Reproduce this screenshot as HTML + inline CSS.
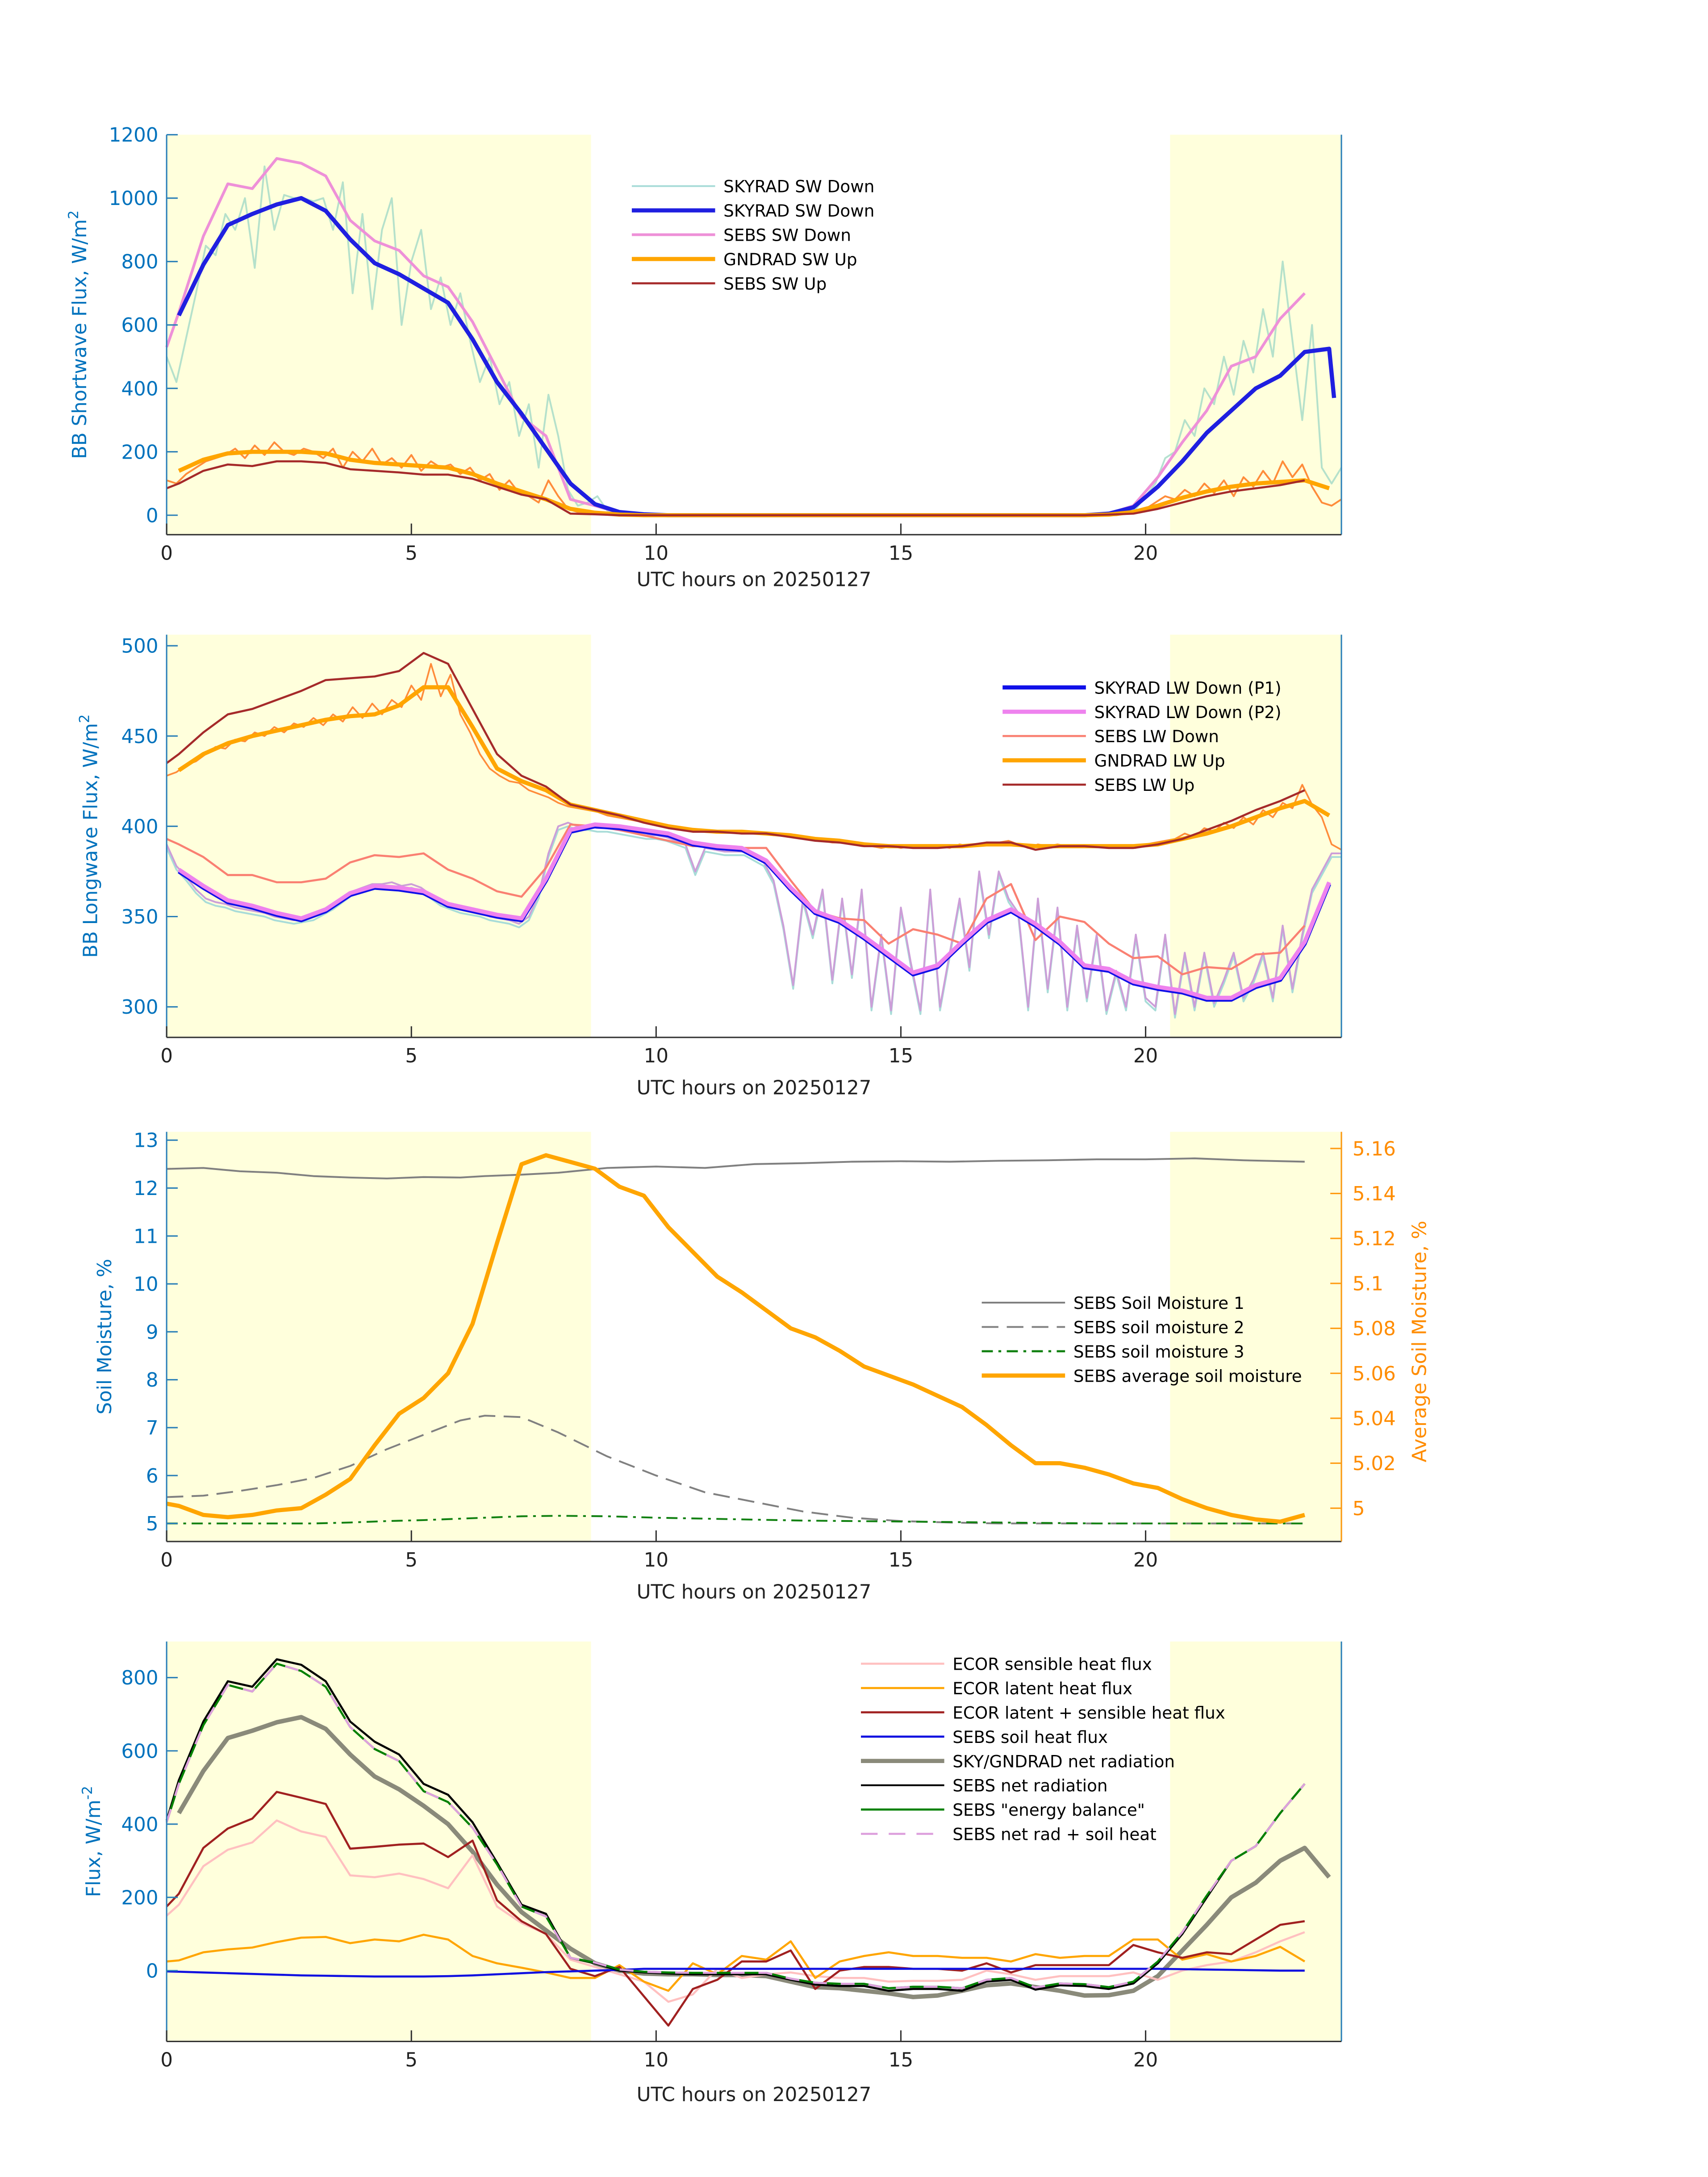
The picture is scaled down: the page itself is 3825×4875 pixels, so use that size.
<!DOCTYPE html>
<html><head><meta charset="utf-8"><style>
html,body{margin:0;padding:0;background:#fff;}
svg{display:block;font-family:"DejaVu Sans","Liberation Sans",sans-serif;}
</style></head><body>
<svg id="fig" xmlns="http://www.w3.org/2000/svg" width="3825" height="4875" viewBox="0 0 1230 1567.6" preserveAspectRatio="none"></svg>
<script>
// ---------------- DATA ----------------
const TH = []; for (let k = 0; k < 48; k++) TH.push(0.25 + 0.5 * k); // 0.25..23.75
const TH0 = [0].concat(TH); // 0,0.25..23.75
const N = null;
// Panel 1 (shortwave)
const swRaw = [500,420,560,700,850,820,950,900,1000,780,1100,900,1010,1000,1000,990,1000,900,1050,700,950,650,900,1000,600,800,900,650,750,600,700,550,420,500,350,420,250,350,150,380,250,80,30,40,60,15,
5,3,2,1,0,0,0,0,0,0,0,0,0,0,0,0,0,0,0,0,0,0,0,0,0,0,0,0,0,0,0,0,0,0,0,0,0,0,0,0,0,0,0,0,0,0,0,0,0,0,2,4,
10,20,60,100,180,200,300,250,400,350,500,380,550,450,650,500,800,550,300,600,150,100,150];
const swSkyDown = [630,790,915,950,980,1000,960,870,795,760,715,670,555,420,320,210,100,35,10,3,0,0,0,0,0,0,0,0,0,0,0,0,0,0,0,0,0,0,5,25,90,170,260,330,400,440,515,525];
const swSkyDownEnd = 370;
const swSebsDown = [530,640,880,1045,1030,1125,1110,1070,930,865,835,755,720,610,460,310,250,50,30,8,2,0,0,0,0,0,0,0,0,0,0,0,0,0,0,0,0,0,0,5,30,120,230,330,470,500,620,700,N];
const swGndRaw = [110,100,130,150,170,180,190,210,180,220,190,230,200,190,210,200,180,210,150,200,170,210,160,180,150,190,140,170,150,160,130,150,110,130,80,110,70,60,40,110,60,20,10,8,5,3,
0,0,0,0,0,0,0,0,0,0,0,0,0,0,0,0,0,0,0,0,0,0,0,0,0,0,0,0,0,0,0,0,0,0,0,0,0,0,0,0,0,0,0,0,0,0,0,0,0,0,0,0,
5,10,20,40,60,50,80,60,100,70,110,60,120,90,140,100,170,120,160,90,40,30,50];
const swGndUp = [140,175,195,200,200,200,195,175,165,160,155,150,130,100,75,50,20,8,2,0,0,0,0,0,0,0,0,0,0,0,0,0,0,0,0,0,0,0,2,10,30,55,75,90,100,105,110,85];
const swSebsUp = [85,100,140,160,155,170,170,165,145,140,135,128,128,115,90,65,50,5,3,0,0,0,0,0,0,0,0,0,0,0,0,0,0,0,0,0,0,0,0,2,5,20,40,60,75,85,95,110,N];
// Panel 2 (longwave)
const lwRaw = [390,378,372,365,360,358,357,355,354,353,352,350,349,348,349,350,353,356,360,364,366,368,368,369,367,368,366,362,358,356,354,353,352,350,349,348,346,350,362,385,400,402,400,400,399,399,398,397,396,395,395,394,392,390,375,388,387,386,386,386,383,380,370,345,312,360,340,365,315,360,318,365,300,340,298,355,325,298,365,300,330,360,322,375,340,375,360,352,300,360,310,355,300,345,305,340,298,320,300,340,305,300,340,296,330,300,330,302,315,330,305,315,330,305,345,310,340,365,375,385,385];
const lwP1 = [375,366,358,355,351,348,353,362,366,365,363,356,353,350,348,370,397,400,399,397,395,390,388,387,380,365,352,347,338,328,318,322,335,347,353,345,335,322,320,313,310,308,304,304,311,315,335,368];
const lwP2 = [376,367,359,356,352,349,354,363,367,366,364,357,354,351,349,371,398,401,400,398,396,391,389,388,381,366,353,348,339,329,319,323,336,348,354,346,336,323,321,314,311,309,305,305,312,316,336,369];
const lwSebsDown = [393,390,383,373,373,369,369,371,380,384,383,385,376,371,364,361,377,401,400,398,395,392,389,389,388,388,370,353,349,348,335,343,340,335,360,368,337,350,347,335,327,328,318,322,321,329,330,345,N];
const lwGndRaw = [428,430,434,436,440,444,443,448,447,452,450,455,452,457,455,460,456,462,458,466,460,468,462,470,466,478,470,490,472,484,462,452,440,432,428,425,424,420,418,416,413,411,410,409,408,406,405,404,403,402,401,400,399,398,398,397,397,397,397,396,396,396,395,395,394,393,393,392,391,391,390,389,389,388,389,388,389,388,389,389,388,390,389,390,391,391,392,390,388,390,389,390,389,389,389,389,388,389,388,388,390,391,392,393,396,394,399,397,402,399,405,401,409,405,413,410,423,412,405,390,387];
const lwGndUp = [431,440,446,450,453,456,459,461,462,467,477,477,455,432,425,420,412,409,406,403,400,398,397,397,396,395,393,392,390,389,389,389,389,390,390,389,389,389,389,389,390,393,396,400,405,410,414,406];
const lwSebsUp = [435,440,452,462,465,470,475,481,482,483,486,496,490,465,440,428,422,412,409,406,402,399,397,397,396,396,394,392,391,389,389,388,388,389,391,391,387,389,389,388,388,390,393,398,403,409,414,420,N];
// Panel 3 (soil moisture)
const smT = [0,0.75,1.5,2.25,3,3.75,4.5,5.25,6,6.5,7.25,8,9,10,11,12,13,14,15,16,17,18,19,20,21,22,23.25];
const sm1 = [12.4,12.42,12.35,12.32,12.25,12.22,12.2,12.23,12.22,12.25,12.28,12.32,12.42,12.45,12.42,12.5,12.52,12.55,12.56,12.55,12.57,12.58,12.6,12.6,12.62,12.58,12.55];
const sm2 = [5.55,5.58,5.68,5.8,5.95,6.2,6.55,6.85,7.15,7.25,7.22,6.9,6.4,6.0,5.65,5.45,5.25,5.12,5.05,5.02,5.0,5.0,5.0,5.0,5.0,5.0,5.0];
const sm3 = [5.0,5.0,5.0,5.0,5.0,5.02,5.05,5.07,5.1,5.12,5.15,5.16,5.15,5.12,5.1,5.08,5.06,5.05,5.04,5.03,5.02,5.01,5.0,5.0,5.0,5.0,5.0];
const smAvg = [5.002,5.001,4.997,4.996,4.997,4.999,5.0,5.006,5.013,5.028,5.042,5.049,5.06,5.082,5.118,5.153,5.157,5.154,5.151,5.143,5.139,5.125,5.114,5.103,5.096,5.088,5.080,5.076,5.070,5.063,5.059,5.055,5.050,5.045,5.037,5.028,5.020,5.020,5.018,5.015,5.011,5.009,5.004,5.000,4.997,4.995,4.994,4.997,N];
// Panel 4 (fluxes) on TH0 grid
const fxNet = [410,520,680,790,775,850,835,790,680,625,590,510,480,405,295,180,155,35,20,0,-5,-8,-10,-10,-10,-10,-25,-38,-42,-42,-55,-50,-50,-55,-30,-25,-52,-40,-42,-50,-35,20,100,200,300,340,430,510,N];
const fxBal = [405,510,670,780,762,838,818,775,665,605,572,490,460,390,290,175,148,35,22,3,-3,-5,-6,-6,-6,-6,-22,-33,-36,-36,-48,-44,-44,-48,-25,-20,-46,-35,-37,-45,-30,25,105,205,300,340,430,510,N];
const fxSky = [N,430,545,635,655,678,692,660,590,530,495,450,400,325,235,160,110,60,20,0,-8,-10,-10,-12,-12,-15,-30,-45,-48,-55,-62,-72,-68,-55,-40,-35,-45,-55,-68,-67,-55,-15,55,125,200,240,300,335,255];
const fxSens = [150,180,285,330,350,410,380,365,260,255,265,250,225,315,175,130,100,30,10,-10,-30,-85,-65,5,-20,-10,-5,-15,-20,-20,-30,-28,-28,-25,0,-10,-25,-15,-15,-15,-5,-25,0,15,25,50,80,105,N];
const fxLat = [25,28,50,58,63,78,90,92,75,85,80,98,85,40,20,8,-5,-20,-20,15,-30,-55,20,-10,40,30,80,-20,25,40,50,40,40,35,35,25,45,35,40,40,85,85,30,45,25,40,65,25,N];
const fxSum = [175,210,335,388,415,488,472,455,333,338,344,347,310,355,192,135,100,5,-15,10,-70,-150,-50,-25,25,25,55,-50,0,10,10,5,5,0,20,-5,15,15,15,15,70,50,35,50,45,85,125,135,N];
const fxSoil = [-2,-3,-5,-7,-9,-11,-13,-14,-15,-16,-16,-16,-15,-13,-10,-7,-4,-2,0,2,5,5,5,5,5,5,5,5,5,5,5,5,5,5,5,5,5,5,5,5,5,5,4,3,2,1,0,0,N];

// ---------------- HELPERS ----------------
const svg = document.getElementById('fig');
const NS = 'http://www.w3.org/2000/svg';
function mk(tag, attrs, parent) {
  const e = document.createElementNS(NS, tag);
  for (const k in attrs) e.setAttribute(k, attrs[k]);
  (parent || svg).appendChild(e);
  return e;
}
const X0 = 120, X1 = 966;
function xs(t) { return X0 + (t / 24) * (X1 - X0); }
function makeY(v0, y0, v1, y1) { return v => y0 + (v - v0) * (y1 - y0) / (v1 - v0); }
function pathFrom(ts, vs, ys) {
  let d = '', pen = false;
  for (let i = 0; i < vs.length && i < ts.length; i++) {
    if (vs[i] === null || vs[i] === undefined) { pen = false; continue; }
    d += (pen ? 'L' : 'M') + xs(ts[i]).toFixed(2) + ' ' + ys(vs[i]).toFixed(2) + ' ';
    pen = true;
  }
  return d;
}
function evenT(n) { const a = []; for (let i = 0; i < n; i++) a.push(i * 24 / (n - 1)); return a; }
function series(g, name, ts, vs, ys, stroke, w, dash, op) {
  const p = mk('path', {d: pathFrom(ts, vs, ys), fill: 'none', stroke: stroke, 'stroke-width': w, 'stroke-linejoin': 'round'}, g);
  if (dash) p.setAttribute('stroke-dasharray', dash);
  if (op) p.setAttribute('opacity', op);
  
  
  return p;
}
function panel(name, top, bot, ys, yticks, ylabel, ylabelSup, xlabY) {
  const g = mk('g', {});
  
  
  const s1 = mk('rect', {x: xs(0), y: top, width: xs(8.67) - xs(0), height: bot - top, fill: '#ffffdc'}, g);
  
  
  const s2 = mk('rect', {x: xs(20.5), y: top, width: xs(24) - xs(20.5), height: bot - top, fill: '#ffffdc'}, g);
  
  
  const plot = mk('g', {}, g);
  
  
  const ax = mk('g', {}, g);
  
  
  mk('line', {x1: X0, y1: top, x2: X0, y2: bot, stroke: '#2a7fb8', 'stroke-width': 1}, ax);
  mk('line', {x1: X1, y1: top, x2: X1, y2: bot, stroke: '#2a7fb8', 'stroke-width': 1}, ax);
  mk('line', {x1: X0, y1: bot, x2: X1, y2: bot, stroke: '#333', 'stroke-width': 1}, ax);
  for (const v of yticks) {
    const y = ys(v);
    mk('line', {x1: X0, y1: y, x2: X0 + 8, y2: y, stroke: '#2a7fb8', 'stroke-width': 1}, ax);
    const t = mk('text', {x: X0 - 6, y: y + 5, 'text-anchor': 'end', 'font-size': 14, fill: '#0072bd'}, ax);
    t.textContent = v;
    
    
  }
  for (const v of [0, 5, 10, 15, 20]) {
    const x = xs(v);
    mk('line', {x1: x, y1: bot, x2: x, y2: bot - 8, stroke: '#333', 'stroke-width': 1}, ax);
    const t = mk('text', {x: x, y: bot + 18, 'text-anchor': 'middle', 'font-size': 14, fill: '#222'}, ax);
    t.textContent = v;
    
    
  }
  const xl = mk('text', {x: 543, y: xlabY, 'text-anchor': 'middle', 'font-size': 14, fill: '#222'}, ax);
  xl.textContent = 'UTC hours on 20250127';
  
  
  const cy = (top + bot) / 2;
  const yl = mk('text', {x: 0, y: 0, 'text-anchor': 'middle', 'font-size': 14, fill: '#0072bd', transform: 'translate(' + ylabel[1] + ',' + cy + ') rotate(-90)'}, ax);
  yl.textContent = ylabel[0];
  if (ylabelSup) { const ts = mk('tspan', {'baseline-shift': 'super', 'font-size': 10}, yl); ts.textContent = ylabelSup; }
  
  
  return plot;
}
function legend(name, x, y0, dy, items) {
  const g = mk('g', {});
  
  
  items.forEach((it, i) => {
    const y = y0 + i * dy;
    const l = mk('line', {x1: x, y1: y, x2: x + 60, y2: y, stroke: it[1], 'stroke-width': it[2]}, g);
    if (it[3]) l.setAttribute('stroke-dasharray', it[3]);
    const t = mk('text', {x: x + 66, y: y + 4.5, 'font-size': 12, fill: '#000'}, g);
    t.textContent = it[0];
    
    
  });
}

// ---------------- PANEL 1 ----------------
const y1 = makeY(0, 371, 1200, 97);
const p1 = panel('shortwave-panel', 97, 385, y1, [0, 200, 400, 600, 800, 1000, 1200], ['BB Shortwave Flux, W/m', 62], '2', 422);
series(p1, 'skyrad-sw-down-raw', evenT(swRaw.length), swRaw, y1, '#a8dcc8', 1.3, null, 0.85);
series(p1, 'gndrad-sw-up-raw', evenT(swGndRaw.length), swGndRaw, y1, '#ff8c3a', 1.3);
series(p1, 'sebs-sw-down', TH0, swSebsDown, y1, '#ee90d8', 2);
series(p1, 'skyrad-sw-down', TH.concat([23.85]), swSkyDown.concat([swSkyDownEnd]), y1, '#1f1fe0', 3);
series(p1, 'gndrad-sw-up', TH, swGndUp, y1, '#ffa500', 3);
series(p1, 'sebs-sw-up', TH0, swSebsUp, y1, '#a52a2a', 1.5);
legend('shortwave-legend', 455, 134, 17.5, [
  ['SKYRAD SW Down', '#a8dcd8', 1.3], ['SKYRAD SW Down', '#1f1fe0', 3], ['SEBS SW Down', '#ee90d8', 2],
  ['GNDRAD SW Up', '#ffa500', 3], ['SEBS SW Up', '#a52a2a', 1.5]]);

// ---------------- PANEL 2 ----------------
const y2 = makeY(300, 725, 500, 465);
const p2 = panel('longwave-panel', 457, 747, y2, [300, 350, 400, 450, 500], ['BB Longwave Flux, W/m', 70], '2', 788);
series(p2, 'skyrad-lw-down-raw-p1', evenT(lwRaw.length), lwRaw.map(v => v - 2), y2, '#a8dcd8', 1.3);
series(p2, 'skyrad-lw-down-raw-p2', evenT(lwRaw.length), lwRaw, y2, '#cc9ed8', 1.3);
series(p2, 'gndrad-lw-up-raw', evenT(lwGndRaw.length), lwGndRaw, y2, '#ff8c3a', 1.2);
series(p2, 'sebs-lw-down', TH0, lwSebsDown, y2, '#fa8072', 1.5);
series(p2, 'skyrad-lw-down-p1', TH, lwP1, y2, '#1010e8', 3);
series(p2, 'skyrad-lw-down-p2', TH, lwP2, y2, '#ee82ee', 3);
series(p2, 'gndrad-lw-up', TH, lwGndUp, y2, '#ffa500', 3);
series(p2, 'sebs-lw-up', TH0, lwSebsUp, y2, '#a52a2a', 1.5);
legend('longwave-legend', 722, 495, 17.5, [
  ['SKYRAD LW Down (P1)', '#1010e8', 3], ['SKYRAD LW Down (P2)', '#ee82ee', 3], ['SEBS LW Down', '#fa8072', 1.5],
  ['GNDRAD LW Up', '#ffa500', 3], ['SEBS LW Up', '#a52a2a', 1.5]]);

// ---------------- PANEL 3 ----------------
const y3 = makeY(5, 1097, 13, 821);
const y3r = makeY(5, 1086, 5.16, 827);
const p3 = panel('soil-moisture-panel', 815, 1110, y3, [5, 6, 7, 8, 9, 10, 11, 12, 13], ['Soil Moisture, %', 80], null, 1151);
series(p3, 'sebs-soil-moisture-1', smT, sm1, y3, '#808080', 1.3);
series(p3, 'sebs-soil-moisture-2', smT, sm2, y3, '#808080', 1.3, '12 6');
series(p3, 'sebs-soil-moisture-3', smT, sm3, y3, '#108010', 1.3, '8 4 2 4');
series(p3, 'sebs-average-soil-moisture', TH0, smAvg, y3r, '#ffa500', 3);
(function () {
  const g = mk('g', {});
  
  
  mk('line', {x1: X1, y1: 815, x2: X1, y2: 1110, stroke: '#ff9a10', 'stroke-width': 1}, g);
  [5, 5.02, 5.04, 5.06, 5.08, 5.1, 5.12, 5.14, 5.16].forEach(v => {
    const y = y3r(v);
    mk('line', {x1: X1 - 8, y1: y, x2: X1, y2: y, stroke: '#ff9a10', 'stroke-width': 1}, g);
    const t = mk('text', {x: X1 + 8, y: y + 5, 'font-size': 14, fill: '#ff8c00'}, g);
    t.textContent = String(v);
    
    
  });
  const yl = mk('text', {x: 0, y: 0, 'text-anchor': 'middle', 'font-size': 14, fill: '#ff8c00', transform: 'translate(1027,966) rotate(-90)'}, g);
  yl.textContent = 'Average Soil Moisture, %';
  
  
})();
legend('soil-moisture-legend', 707, 938, 17.5, [
  ['SEBS Soil Moisture 1', '#808080', 1.3], ['SEBS soil moisture 2', '#808080', 1.3, '12 6'],
  ['SEBS soil moisture 3', '#108010', 1.5, '8 4 2 4'], ['SEBS average soil moisture', '#ffa500', 3]]);

// ---------------- PANEL 4 ----------------
const y4 = makeY(0, 1419, 800, 1208);
const p4 = panel('flux-panel', 1182, 1470, y4, [0, 200, 400, 600, 800], ['Flux, W/m', 72], '-2', 1513);
series(p4, 'sky-gndrad-net-radiation', TH0, fxSky, y4, '#8a8a7a', 3.2);
series(p4, 'ecor-sensible-heat-flux', TH0, fxSens, y4, '#ffc0c0', 1.5);
series(p4, 'ecor-latent-heat-flux', TH0, fxLat, y4, '#ffa500', 1.5);
series(p4, 'ecor-latent-plus-sensible', TH0, fxSum, y4, '#a02020', 1.5);
series(p4, 'sebs-soil-heat-flux', TH0, fxSoil, y4, '#1010e0', 1.5);
series(p4, 'sebs-net-radiation', TH0, fxNet, y4, '#000', 1.5);
series(p4, 'sebs-energy-balance', TH0, fxBal, y4, '#008000', 1.5);
series(p4, 'sebs-net-rad-plus-soil-heat', TH0, fxBal, y4, '#dda0dd', 1.5, '10 10');
legend('flux-legend', 620, 1198, 17.5, [
  ['ECOR sensible heat flux', '#ffc0c0', 1.5], ['ECOR latent heat flux', '#ffa500', 1.5],
  ['ECOR latent + sensible heat flux', '#a02020', 1.5], ['SEBS soil heat flux', '#1010e0', 1.5],
  ['SKY/GNDRAD net radiation', '#8a8a7a', 3], ['SEBS net radiation', '#000', 1.3],
  ['SEBS "energy balance"', '#008000', 1.5], ['SEBS net rad + soil heat', '#dda0dd', 1.5, '12 8']]);
</script>
</body></html>
